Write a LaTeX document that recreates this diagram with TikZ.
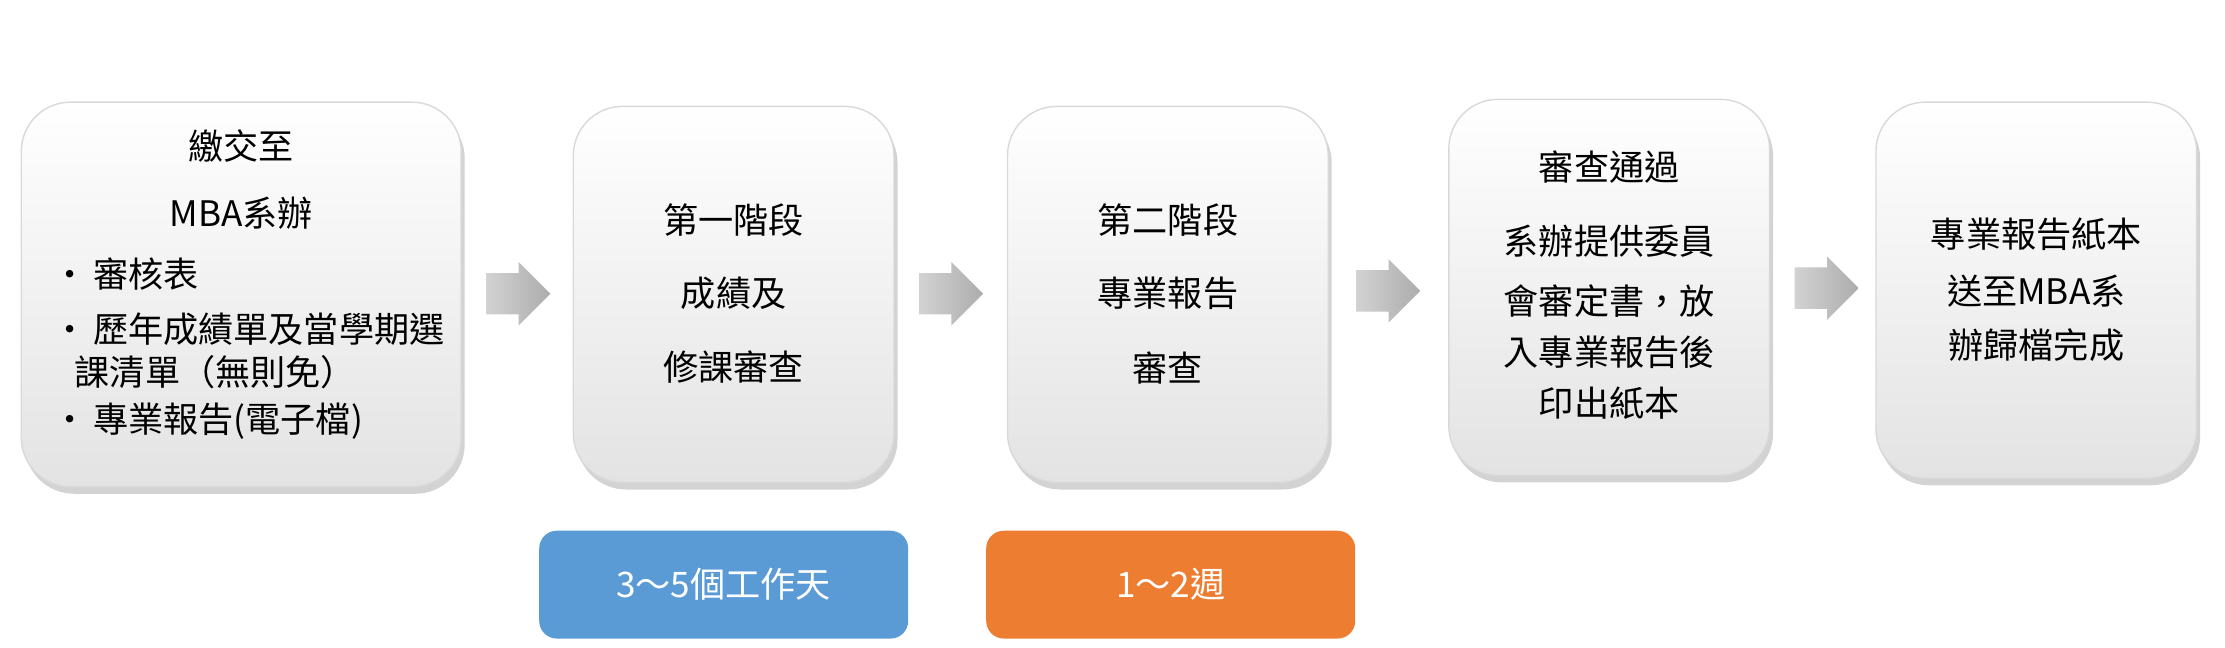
\documentclass[tikz,border=0pt]{standalone}
\usepackage{fontspec}
\setmainfont{Noto Sans CJK TC}
\usetikzlibrary{shapes.arrows,shadows,calc}
\definecolor{cblue}{HTML}{5B9BD5}
\definecolor{corange}{HTML}{ED7D31}
\begin{document}
\begin{tikzpicture}[x=0.01419cm,y=-0.01419cm,
  box/.style={draw=gray!30,rounded corners=14pt,top color=white,bottom color=gray!22,
    drop shadow={opacity=0.35,shadow xshift=1pt,shadow yshift=-2pt}},
  txt/.style={font=\fontsize{10}{12}\selectfont,align=center},
  arr/.style={single arrow,draw=none,minimum height=0.64cm,
    single arrow head extend=0.11cm,inner xsep=0pt,inner ysep=0.2cm,
    left color=gray!35,right color=gray!65},
  tag/.style={rounded corners=5pt,minimum width=260*0.01419cm,minimum height=76*0.01419cm,
    text=white,font=\fontsize{10}{12}\selectfont}]
\useasboundingbox (0,0) rectangle (1568,456);
\path[box] (15,72) rectangle (325,343) coordinate (b1);
\path[box] (404,75) rectangle (630,340);
\path[box] (710,75) rectangle (936,340);
\path[box] (1021,70) rectangle (1247,335);
\path[box] (1322,72) rectangle (1548,337);
\node[txt] (t1a) at (170,103) {繳交至};
\node[txt] (t1b) at (170,150) {MBA系辦};
\node[txt,anchor=west,align=left] (t1c) at (28,193) {•\,審核表};
\node[txt,anchor=west,align=left] (t1d) at (28,232) {•\,歷年成績單及當學期選};
\node[txt,anchor=west,align=left] (t1e) at (44,262) {課清單（無則免）};
\node[txt,anchor=west,align=left] (t1f) at (28,297) {•\,專業報告(電子檔)};
\node[txt] (t2a) at (517,155) {第一階段};
\node[txt] (t2b) at (517,207) {成績及};
\node[txt] (t2c) at (517,259) {修課審查};
\node[txt] (t3a) at (823,155) {第二階段};
\node[txt] (t3b) at (823,207) {專業報告};
\node[txt] (t3c) at (823,259) {審查};
\node[txt] (t4a) at (1134,118) {審查通過};
\node[txt] (t4b) at (1134,170) {系辦提供委員};
\node[txt] (t4c) at (1134,212) {會審定書，放};
\node[txt] (t4d) at (1134,248) {入專業報告後};
\node[txt] (t4e) at (1134,284) {印出紙本};
\node[txt] (t5a) at (1435,165) {專業報告紙本};
\node[txt] (t5b) at (1435,205) {送至MBA系};
\node[txt] (t5c) at (1435,243) {辦歸檔完成};
\node[arr] (a1) at (358,207) {};
\node[arr] (a2) at (663,207) {};
\node[arr] (a3) at (971,205) {};
\node[arr] (a4) at (1280,203) {};
\node[tag,fill=cblue] (g1) at (510,412) {3～5個工作天};
\node[tag,fill=corange] (g2) at (825,412) {1～2週};
\end{tikzpicture}
\end{document}
